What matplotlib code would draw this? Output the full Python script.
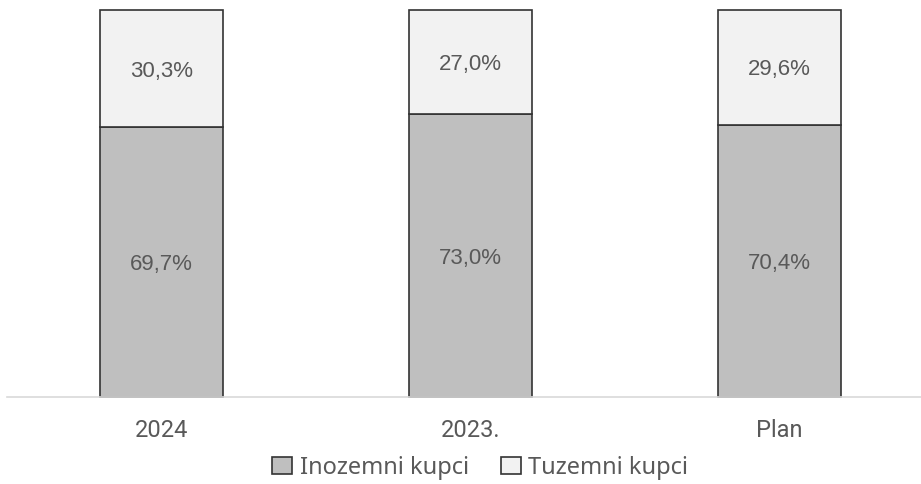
import matplotlib.pyplot as plt

categories = ['2024', '2023.', 'Plan']
inozemni = [69.7, 73.0, 70.4]
tuzemni = [30.3, 27.0, 29.6]
series_names = ['Inozemni kupci', 'Tuzemni kupci']

fig = plt.figure(figsize=(9.21, 4.84), dpi=100)
ax = fig.add_axes([7 / 921, 87 / 484, 927 / 921, 387 / 484])

xx = range(len(categories))
ax.bar(xx, inozemni, width=0.4, color='#bfbfbf', edgecolor='#333333',
       linewidth=1.2, label=series_names[0], clip_on=False)
ax.bar(xx, tuzemni, width=0.4, bottom=inozemni, color='#f2f2f2',
       edgecolor='#333333', linewidth=1.2, label=series_names[1], clip_on=False)

for i in xx:
    ax.text(i, inozemni[i] / 2, f'{inozemni[i]:.1f}%'.replace('.', ','),
            ha='center', va='center_baseline', fontsize=16, color='#595959',
            family='Liberation Sans')
    ax.text(i, inozemni[i] + tuzemni[i] / 2, f'{tuzemni[i]:.1f}%'.replace('.', ','),
            ha='center', va='center_baseline', fontsize=16, color='#595959',
            family='Liberation Sans')

ax.set_xlim(-0.5, 2.5)
ax.set_ylim(0, 100)
ax.set_yticks([])
for s in ['top', 'left', 'right']:
    ax.spines[s].set_visible(False)
ax.spines['bottom'].set_color('#d9d9d9')
ax.spines['bottom'].set_linewidth(1.2)
ax.set_xticks(list(xx))
ax.set_xticklabels(categories, fontsize=17, color='#595959', family='Roboto')
ax.tick_params(axis='x', length=0, pad=16)

leg = fig.legend(loc='center', bbox_to_anchor=(480 / 921, 1 - 468 / 484), ncol=2,
                 frameon=False, prop={'family': 'Noto Sans', 'size': 17},
                 handlelength=0.85, handleheight=0.75, handletextpad=0.3,
                 columnspacing=1.35)
for t in leg.get_texts():
    t.set_color('#595959')

fig.savefig('out.png', dpi=100)
